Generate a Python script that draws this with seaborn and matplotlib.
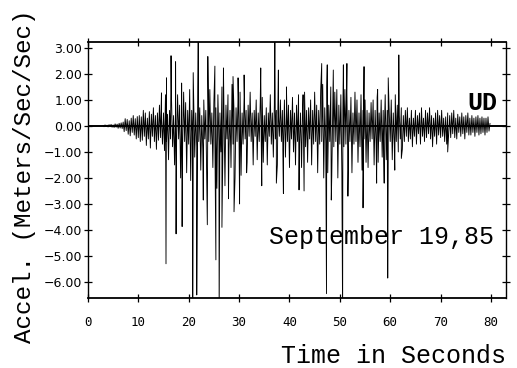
import numpy as np
import pandas as pd
import matplotlib
matplotlib.use("Agg")
import matplotlib.pyplot as plt
import seaborn as sns

# ---- data read from the record (m/s^2), sampled every 0.2 s ----------------
dt = 0.2
bg_start = 3.0
bg_03_10 = [0.02, -0.03, 0.04, -0.02, 0.03,
            -0.04, 0.05, -0.03, 0.06, -0.05,
            0.04, -0.06, 0.08, -0.05, 0.07,
            -0.09, 0.10, -0.08, 0.12, -0.10,
            0.15, -0.22, 0.28, -0.18, 0.25,
            -0.32, 0.20, -0.38, 0.30, -0.25,
            0.40, -0.35, 0.28, -0.50, 0.36]
bg_10_20 = [-0.45, 0.40, -0.60, 0.35, -0.55,
            0.60, -0.40, 0.50, -0.75, 0.30,
            -0.50, 0.55, -0.85, 0.45, -0.40,
            0.70, -0.60, 0.40, -0.90, 0.50,
            -0.55, 0.80, -0.45, 0.35, -0.70,
            0.50, -0.95, 1.20, -0.60, 0.45,
            -1.30, 0.60, -0.50, 1.00, -0.80,
            0.40, -1.50, 0.70, -0.60, 1.20,
            -0.50, 0.80, -2.00, 0.50, -0.70,
            1.30, -0.60, 0.90, -1.80, 0.60]
bg_20_30 = [-0.70, 1.40, -2.10, 0.60, -0.50,
            0.90, -1.20, 0.50, -0.80, 1.50,
            -0.60, 0.70, -1.70, 0.40, -0.90,
            1.00, -0.50, 0.60, -2.20, 0.80,
            -0.60, 1.40, -0.70, 0.50, -1.60,
            0.90, -0.50, 0.70, -2.40, 1.20,
            -0.60, 0.50, -1.00, 1.50, -0.70,
            0.60, -2.30, 0.80, -0.50, 1.20,
            -0.90, 0.60, -1.60, 1.60, -0.70,
            0.50, -2.00, 0.70, -0.60, 1.10]
bg_30_40 = [-0.60, 1.30, -1.90, 0.50, -0.70,
            1.10, -0.50, 0.60, -1.40, 0.80,
            -0.40, 1.30, -0.60, 0.50, -1.50,
            0.60, -0.40, 1.00, -1.30, 0.50,
            -0.60, 0.90, -0.50, 1.10, -1.40,
            0.40, -0.60, 0.70, -1.50, 0.50,
            -0.40, 1.20, -0.70, 0.50, -1.20,
            0.80, -0.50, 0.60, -1.50, 0.50,
            -0.40, 1.00, -0.60, 0.60, -0.90,
            1.00, -1.20, 0.50, -0.60, 0.80]
bg_40_50 = [-1.60, 0.60, -0.50, 1.10, -1.00,
            0.50, -1.50, 0.80, -0.60, 1.20,
            -0.70, 0.50, -1.60, 0.60, -0.50,
            1.30, -0.80, 0.60, -1.40, 0.70,
            -0.50, 1.00, -1.50, 0.60, -0.70,
            1.30, -0.60, 0.80, -1.80, 0.60,
            -0.70, 1.40, -0.60, 1.60, -2.00,
            0.70, -0.60, 1.50, -1.80, 0.80,
            -0.60, 1.50, -1.90, 0.70, -0.80,
            1.30, -0.60, 1.40, -2.00, 0.80]
bg_50_60 = [-0.70, 1.20, -1.80, 0.60, -0.80,
            1.40, -0.70, 1.30, -1.70, 0.60,
            -0.60, 1.10, -1.80, 0.50, -0.70,
            1.30, -0.60, 1.00, -1.40, 0.50,
            -0.80, 1.20, -1.70, 0.60, -0.50,
            1.00, -1.40, 0.60, -1.60, 0.50,
            -0.60, 0.90, -0.50, 1.00, -1.50,
            0.60, -0.70, 1.10, -1.40, 0.50,
            -0.60, 1.00, -1.20, 0.60, -0.50,
            1.20, -1.30, 0.60, -1.40, 0.50]
bg_60_70 = [-0.60, 1.00, -1.30, 0.50, -0.70,
            1.20, -0.60, 0.80, -1.00, 0.40,
            -0.50, 0.70, -0.90, 0.40, -0.60,
            0.60, -0.40, 0.70, -0.60, 0.30,
            -0.50, 0.60, -0.80, 0.30, -0.40,
            0.60, -0.70, 0.40, -0.30, 0.50,
            -0.70, 0.70, -0.40, 0.30, -0.60,
            0.60, -0.45, 0.50, -0.30, 0.70,
            -0.50, 0.40, -0.80, 0.30, -0.40,
            0.50, -0.70, 0.60, -0.35, 0.40]
bg_70_80 = [-0.45, 0.60, -0.40, 0.30, -0.60,
            0.35, -0.70, 0.50, -0.30, 0.40,
            -0.45, 0.50, -0.30, 0.60, -0.45,
            0.30, -0.50, 0.45, -0.25, 0.35,
            -0.40, 0.50, -0.30, 0.35, -0.50,
            0.40, -0.25, 0.50, -0.35, 0.30,
            -0.35, 0.40, -0.25, 0.30, -0.40,
            0.35, -0.25, 0.40, -0.35, 0.30,
            -0.30, 0.35, -0.25, 0.30, -0.35,
            0.30, -0.25, 0.35, -0.20, 0.10]

# prominent peaks (time s, accel m/s^2); values beyond the frame are clipped
spike_t = [14.6, 15.5, 15.6, 16.5, 17.4, 17.5, 18.6, 18.7, 20.8, 20.9, 21.6, 21.9,
           22.9, 23.7, 23.8, 25.2, 25.4, 26.05, 26.6, 26.9, 27.9, 28.8, 29.0, 29.8,
           30.1, 31.0, 31.5, 34.3, 34.5, 37.1, 37.4, 37.8, 38.8, 39.4, 41.9, 42.7,
           42.9, 46.4, 47.35, 47.5, 48.3, 48.7, 50.55, 50.7, 51.4, 51.6, 54.6, 54.8,
           57.3, 57.5, 58.8, 59.5, 59.6, 60.9, 61.7, 62.2, 71.4]
spike_a = [1.27, -5.30, 1.85, 2.70, 2.47, -4.15, 1.65, -3.87, -7.50, 2.05, -6.50, 3.80,
           -2.85, -3.80, 2.67, 2.30, -5.15, -7.50, -3.90, 2.23, -2.80, 1.90, -3.30, 1.85,
           -3.00, 1.96, -1.80, 2.23, -2.30, 3.80, -2.20, 2.15, -2.60, 1.50, -2.46, 1.20,
           -2.50, 2.40, -6.45, 2.35, -2.85, 2.15, -7.50, 2.35, 2.40, -2.70, -3.15, 2.28,
           -2.20, 1.40, -2.20, -5.85, 1.85, -1.70, 2.73, -1.25, -1.00]

x_ticks = [0, 10, 20, 30, 40, 50, 60, 70, 80]
y_ticks = [3, 2, 1, 0, -1, -2, -3, -4, -5, -6]

# ---- build the trace ----------------------------------------------------------
bg = np.array(bg_03_10 + bg_10_20 + bg_20_30 + bg_30_40 + bg_40_50 + bg_50_60
              + bg_60_70 + bg_70_80)
bg_t = bg_start + dt * np.arange(len(bg))
t_all = np.concatenate([bg_t, np.array(spike_t)])
a_all = np.concatenate([bg, np.array(spike_a)])
order = np.argsort(t_all, kind="stable")
df = pd.DataFrame({"time": t_all[order], "accel": a_all[order]})

# ---- plot -------------------------------------------------------------------
sns.set_theme(style="ticks")
plt.rcParams["font.family"] = ["DejaVu Sans"]
mono = "Liberation Mono"

fig = plt.figure(figsize=(5.17, 3.68), dpi=100)
ax = fig.add_axes([0.170, 0.190, 0.809, 0.696])

sns.lineplot(data=df, x="time", y="accel", estimator=None, sort=False,
             color="black", linewidth=0.65, ax=ax)
ax.axhline(0, color="black", linewidth=1.4, zorder=3)

ax.set_xlim(0, 83)
ax.set_ylim(-6.62, 3.23)
ax.set_xticks(x_ticks)
ax.set_yticks(y_ticks)
ax.set_yticklabels([f"{v:.2f}".replace("-", "\u2212") for v in y_ticks])
ax.set_xticklabels([str(v) for v in x_ticks], fontfamily="DejaVu Sans Mono")

ax.tick_params(axis="both", which="major", direction="inout", length=6,
               width=0.9, color="black", labelsize=9, labelcolor="black",
               top=True, right=True)
ax.tick_params(axis="x", pad=10)
ax.tick_params(axis="y", pad=1)
for sp in ax.spines.values():
    sp.set_visible(True)
    sp.set_color("black")
    sp.set_linewidth(1.0)
ax.spines["top"].set_linewidth(1.3)
ax.spines["bottom"].set_linewidth(1.3)

ax.set_xlabel("Time in Seconds", fontfamily=mono, fontsize=18, loc="right",
              labelpad=11, color="black")
ax.set_ylabel("Accel. (Meters/Sec/Sec)", fontfamily=mono, fontsize=17.5,
              color="black")
ax.yaxis.set_label_coords(-0.125, 0.475)

ax.text(81.2, 0.9, "UD", fontfamily=mono, fontweight="bold", fontsize=18,
        ha="right", va="center", color="black")
ax.text(80.6, -4.27, "September 19,85", fontfamily=mono, fontsize=18,
        ha="right", va="center", color="black")

fig.savefig("out.png", dpi=100, facecolor="white")
